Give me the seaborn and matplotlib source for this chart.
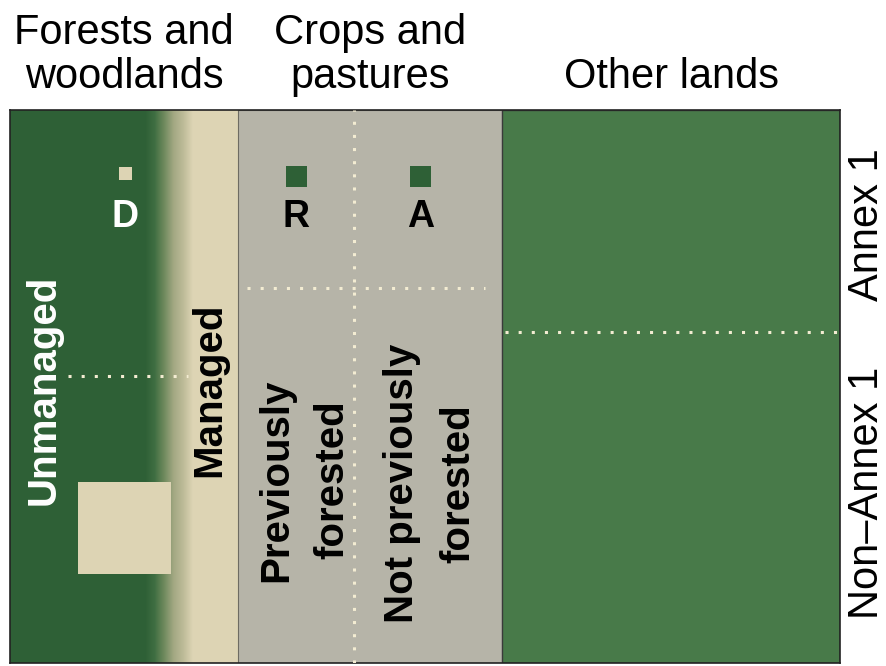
import numpy as np
import matplotlib
matplotlib.use("Agg")
import matplotlib.pyplot as plt
from matplotlib.colors import LinearSegmentedColormap
from matplotlib.patches import Rectangle
import seaborn as sns

# land columns (x in % of the panel width)
land_types = ["Forests and\nwoodlands", "Crops and\npastures", "Other lands"]
land_left = [0.0, 27.5, 59.3]
land_width = [27.5, 31.8, 40.7]

# forest column: unmanaged / transition / managed
unmanaged_end = 16.3
managed_start = 22.0

# annex / non-annex split per column (y in %, 0 = bottom)
split_y = [51.9, 67.8, 59.9]
split_x0 = [7.0, 28.6, 59.6]
split_x1 = [21.4, 57.2, 99.8]
crops_divider_x = 41.4

# small flux markers
marker_names = ["D", "R", "A"]
marker_x = [13.9, 34.5, 49.5]
marker_y = [88.6, 87.9, 87.9]
marker_area = [88, 228, 228]

# managed patch inside unmanaged forest (x, y, w, h)
patch_box = [8.2, 16.1, 11.2, 16.6]

region_labels = ["Unmanaged", "Managed", "Previously\nforested", "Not previously\nforested"]
region_x = [4.0, 24.0, 35.5, 50.6]
region_y = [49.4, 49.4, 33.1, 32.5]
region_color = ["white", "black", "black", "black"]

row_labels = ["Annex 1", "Non\u2013Annex 1"]
row_y = [79.2, 30.7]

FOREST = "#2e6036"
OTHER = "#487a49"
BEIGE = "#ddd4b4"
GRAY = "#b6b4a8"
DOT = "#f3ecd2"

sns.set_theme(style="white")
plt.rcParams["font.family"] = ["Liberation Sans", "DejaVu Sans"]
plt.rcParams["text.color"] = "black"

fig = plt.figure(figsize=(8.86, 6.66), dpi=100)
ax = fig.add_axes([10 / 886, 3 / 666, 830 / 886, 553 / 666])
ax.set_xlim(0, 100)
ax.set_ylim(0, 100)

# column blocks
ax.bar(land_left[0], 100, width=unmanaged_end, align="edge", color=FOREST, linewidth=0)
ax.bar(managed_start, 100, width=land_left[1] - managed_start, align="edge", color=BEIGE, linewidth=0)
ax.bar(land_left[1], 100, width=land_width[1], align="edge", color=GRAY, edgecolor="#6d6b62", linewidth=0.8)
ax.bar(land_left[2], 100, width=land_width[2], align="edge", color=OTHER, edgecolor="#3a3a3a", linewidth=1.0)

# soft transition between unmanaged and managed forest
fade = LinearSegmentedColormap.from_list("fade", [FOREST, "#3f6e42", "#6f8a5d", "#a3a883", "#bdbb98", BEIGE])
ax.imshow(np.linspace(0, 1, 200)[None, :], cmap=fade, aspect="auto",
          extent=[unmanaged_end, managed_start, 0, 100], zorder=1)

# dotted dividers
dot_style = dict(color=DOT, lw=2.2, linestyle=(0, (1, 3.3)), zorder=3)
for y, x0, x1 in zip(split_y, split_x0, split_x1):
    ax.plot([x0, x1], [y, y], **dot_style)
ax.plot([crops_divider_x, crops_divider_x], [0, 100], **dot_style)

# managed patch in unmanaged forest
ax.add_patch(Rectangle((patch_box[0], patch_box[1]), patch_box[2], patch_box[3],
                       facecolor=BEIGE, edgecolor="none", zorder=3))

# D / R / A markers
sns.scatterplot(x=marker_x, y=marker_y, hue=marker_names, size=marker_names,
                palette={"D": BEIGE, "R": FOREST, "A": FOREST},
                sizes=dict(zip(marker_names, marker_area)),
                marker="s", linewidth=0, legend=False, ax=ax, zorder=4)
for name, x in zip(marker_names, marker_x):
    ax.text(x, 78.8, name, ha="center", va="baseline", fontsize=27, fontweight="bold",
            color="white" if name == "D" else "black", zorder=5)

for lab, x, y, c in zip(region_labels, region_x, region_y, region_color):
    ax.text(x, y, lab, rotation=90, ha="center", va="center", multialignment="center",
            fontsize=29, fontweight="bold", color=c, linespacing=1.6, zorder=5)

# column headers
for lab, left, w in zip(land_types, land_left, land_width):
    ax.text(left + w / 2, 102.4, lab, ha="center", va="bottom", fontsize=30,
            linespacing=1.12, color="black", clip_on=False)

# row labels at the right
for lab, y in zip(row_labels, row_y):
    ax.text(103.3, y, lab, rotation=90, ha="center", va="center", fontsize=30,
            color="black", clip_on=False)

ax.set_xticks([])
ax.set_yticks([])
for sp in ax.spines.values():
    sp.set_visible(True)
    sp.set_color("#222222")
    sp.set_linewidth(1.2)

fig.savefig("out.png", dpi=100)
